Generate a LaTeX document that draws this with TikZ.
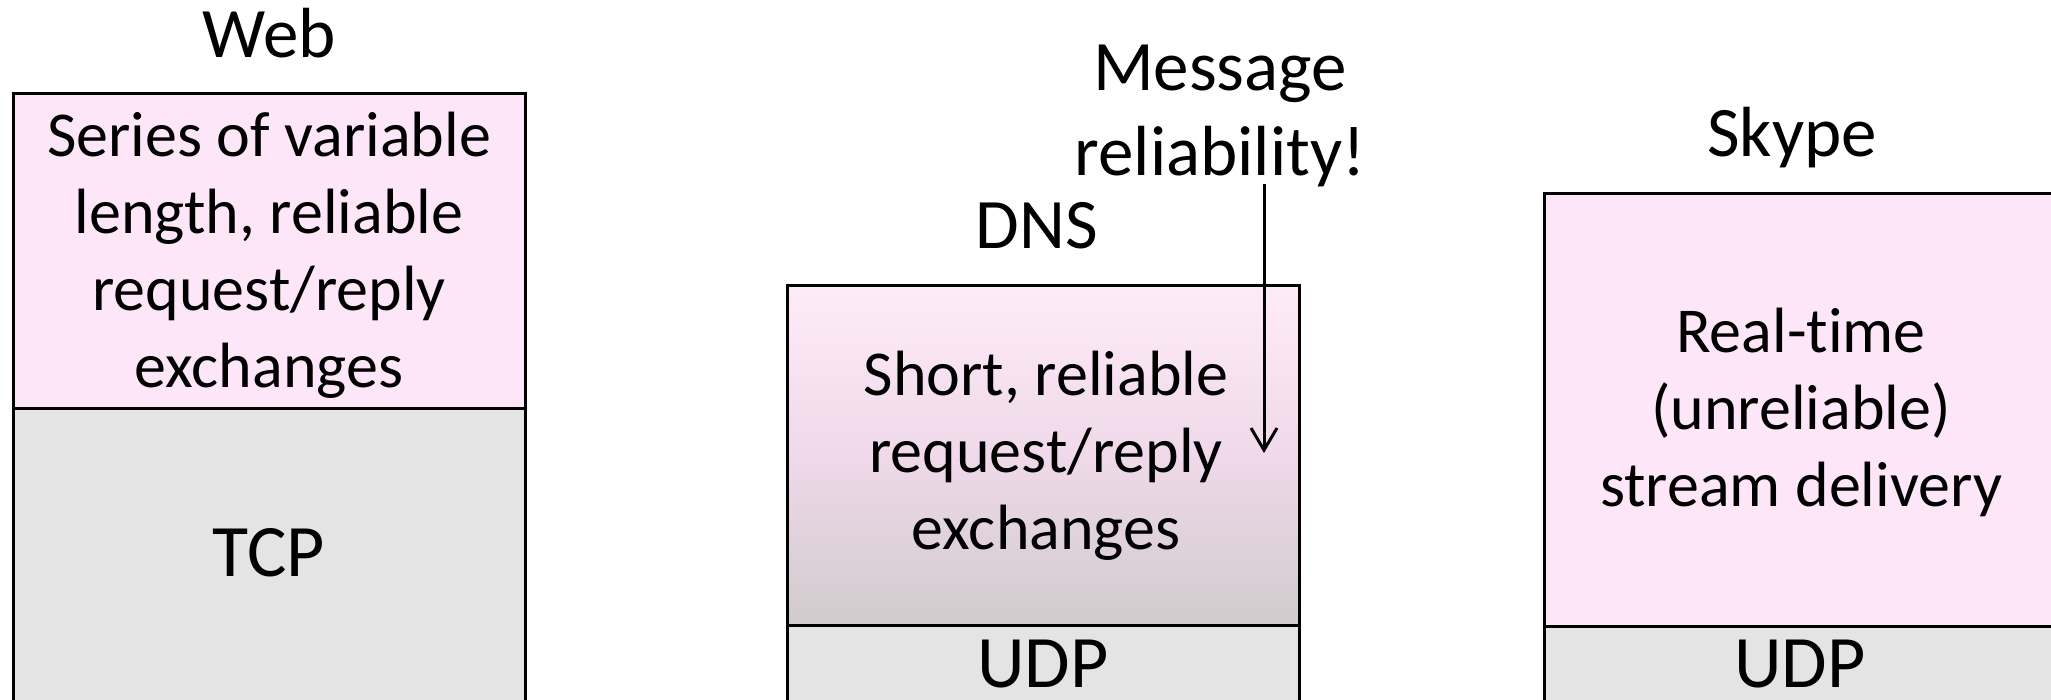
\documentclass[tikz,border=0pt]{standalone}
\usepackage{fontspec}
\setmainfont[Ligatures=NoCommon]{Carlito}
\usetikzlibrary{arrows.meta}
\definecolor{pinkfill}{HTML}{FDE6F7}
\definecolor{grayfill}{HTML}{E4E4E4}
\definecolor{gradtop}{HTML}{FEEBF8}
\definecolor{gradmid}{HTML}{EFD9EA}
\definecolor{gradbot}{HTML}{D0CBCC}
\tikzset{
  layer/.style={draw=black, line width=3pt},
  body/.style={align=center, inner sep=0pt, font=\fontsize{64}{77}\selectfont},
  label/.style={anchor=base, inner sep=0pt, font=\fontsize{71}{85}\selectfont},
  proto/.style={anchor=base, inner sep=0pt, font=\fontsize{74}{88}\selectfont},
  note/.style={align=center, inner sep=0pt, font=\fontsize{71}{85}\selectfont},
  pointer/.style={line width=3pt, -{Straight Barb[length=22pt,width=26pt,line width=3pt]}}
}
\begin{document}
\begin{tikzpicture}[x=1pt,y=-1pt]
\useasboundingbox (0,0) rectangle (2051,699);
\clip (0,0) rectangle (2051,699);
% Web stack
\path[fill=pinkfill] (13,93) rectangle (525,408);
\path[fill=grayfill] (13,408) rectangle (525,720);
\draw[layer] (13,720) -- (13,93) -- (525,93) -- (525,720);
\draw[layer] (13,408) -- (525,408);
\node[label] (web) at (269,57) {Web};
\node[body] (webapp) at (269,255) {Series of variable\\length, reliable\\request/reply\\exchanges};
\node[proto] (tcp) at (269,576) {TCP};
% DNS stack
\shade[top color=gradtop, bottom color=gradbot, middle color=gradmid] (787,285) rectangle (1299,625);
\path[fill=grayfill] (787,625) rectangle (1299,720);
\draw[layer] (787,720) -- (787,285) -- (1299,285) -- (1299,720);
\draw[layer] (787,625) -- (1299,625);
\node[label] (dns) at (1037,248) {DNS};
\node[body] (dnsapp) at (1046,456) {Short, reliable\\request/reply\\exchanges};
\node[proto] (udp1) at (1043,687) {UDP};
% Skype stack
\path[fill=pinkfill] (1544,193) rectangle (2056,626);
\path[fill=grayfill] (1544,626) rectangle (2056,720);
\draw[layer] (1544,720) -- (1544,193) -- (2056,193) -- (2056,720);
\draw[layer] (1544,626) -- (2056,626);
\node[label] (skype) at (1792,156) {Skype};
\node[body] (skypeapp) at (1801,412) {Real-time\\(unreliable)\\stream delivery};
\node[proto] (udp2) at (1800,687) {UDP};
% note and arrow
\node[note] (msg) at (1220,116) {Message\\reliability!};
\coordinate (arrstart) at (1264,184);
\coordinate (arrend) at (1264,453);
\draw[pointer] (arrstart) -- (arrend);
\end{tikzpicture}
\end{document}
